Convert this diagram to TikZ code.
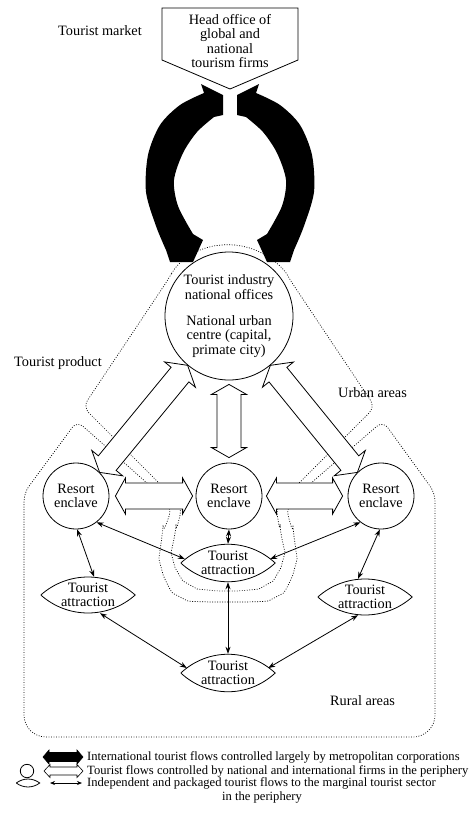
\documentclass[tikz,border=0pt]{standalone}
\usepackage{fontspec}
\setmainfont{Liberation Serif}
\usetikzlibrary{calc,arrows.meta}
% #1 style, #2 from, #3 to, #4 head length, #5 shaft half width, #6 head half width
\newcommand\hdarrow[6]{%
  \draw[#1] (#2) -- ($(#2)!#4!(#3)!#6!90:(#3)$) -- ($(#2)!#4!(#3)!#5!90:(#3)$)
    -- ($(#3)!#4!(#2)!#5!-90:(#2)$) -- ($(#3)!#4!(#2)!#6!-90:(#2)$) -- (#3)
    -- ($(#3)!#4!(#2)!#6!90:(#2)$) -- ($(#3)!#4!(#2)!#5!90:(#2)$)
    -- ($(#2)!#4!(#3)!#5!-90:(#3)$) -- ($(#2)!#4!(#3)!#6!-90:(#3)$) -- cycle;}
% lens around a node: name, control dx, control dy
\newcommand\lensdraw[3]{%
  \draw[lensline] (#1.west) .. controls +(#2,-#3) and +(-#2,-#3) .. (#1.east)
    .. controls +(-#2,#3) and +(#2,#3) .. (#1.west);}
\newcommand\blackarc{%
  \fill (201,84) -- (223,95) -- (223,115)
    -- plot[smooth] coordinates {(214,117) (197,132) (183,153) (174,180) (178,206) (193,234)}
    -- (203,240) -- (193,262) -- (170,262)
    -- plot[smooth] coordinates {(166,250) (156,226) (146,192) (148,155) (160,125) (180,105) (204,93)}
    -- cycle;}
\begin{document}
\begin{tikzpicture}[x=1pt,y=-1pt,
  font=\fontsize{14.3}{14.4}\selectfont,
  lw/.style={line width=0.8pt},
  dotline/.style={line width=0.7pt, dash pattern=on 0.9pt off 1.6pt},
  circ/.style={circle, draw, line width=0.8pt, fill=white, inner sep=0pt, align=center},
  attr/.style={inner sep=0pt, minimum width=94pt, minimum height=38pt, align=center},
  lensline/.style={line width=0.8pt},
  hollow/.style={draw, fill=white, line width=0.8pt},
  flow/.style={line width=0.8pt, {Stealth[length=7pt,width=5pt]}-{Stealth[length=7pt,width=5pt]}},
  lbl/.style={inner sep=0pt},
  legtext/.style={inner sep=0pt, font=\fontsize{12.6}{14}\selectfont}
]
\useasboundingbox (0,0) rectangle (476,814);

% ---------- dotted regions ----------
\draw[dotline, rounded corners=8pt] (167.5,280.5) arc[start angle=150, end angle=30, radius=71pt]
  -- (375,407) -- (300,482) -- (276,507)
  -- plot[smooth] coordinates {(280,532) (283,560) (266,585) (228,591) (190,585) (173,560) (176,532)}
  -- (182,507) -- (158,482) -- (83,407) -- cycle;
\draw[dotline, rounded corners=8pt] (24,600) -- (24,493) -- (77,421) -- (147,483) -- (172,508)
  -- plot[smooth] coordinates {(163,533) (161,567) (180,597) (228,602) (276,597) (295,567) (293,533)}
  -- (286,508) -- (311,483) -- (383,421) -- (435,493) [rounded corners=22pt] -- (435,737) -- (24,737) -- (24,600);

% ---------- head office ----------
\draw[lw] (162,8) -- (298,8) -- (298,60) -- (230,89) -- (162,60) -- cycle;
\node[lbl, align=center] (head) at (230,41) {Head office of\\global and\\national\\tourism firms};

% ---------- circles ----------
\node[circ, minimum size=128pt] (nat) at (229,316)
  {Tourist industry\\national offices\\[12pt]National urban\\centre (capital,\\primate city)};
\node[circ, minimum size=66pt] (resL) at (76,496) {Resort\\enclave};
\node[circ, minimum size=66pt] (resM) at (229,496) {Resort\\enclave};
\node[circ, minimum size=66pt] (resR) at (381,496) {Resort\\enclave};

% ---------- hollow arrows ----------
\coordinate (vT) at ($(nat.south)+(0,4)$);
\coordinate (vB) at ($(resM.north)+(0,-5)$);
\coordinate (hL1) at ($(resL.east)+(6,0)$);
\coordinate (hL2) at ($(resM.west)+(-3,0)$);
\coordinate (hR1) at ($(resM.east)+(4,0)$);
\coordinate (hR2) at ($(resR.west)+(-5,0)$);
\hdarrow{hollow}{resL.45}{nat.230}{12pt}{11.5pt}{20pt}
\hdarrow{hollow}{resR.135}{nat.310}{12pt}{11.5pt}{20pt}
\hdarrow{hollow}{vT}{vB}{10pt}{12pt}{17.5pt}
\hdarrow{hollow}{hL1}{hL2}{10pt}{13pt}{18pt}
\hdarrow{hollow}{hR1}{hR2}{10pt}{13pt}{18pt}

% ---------- black arcs ----------
\blackarc
\begin{scope}[shift={(460,0)}, xscale=-1]
\blackarc
\end{scope}

% ---------- attractions ----------
\node[attr] (a1) at (228,563) {Tourist\\attraction};
\node[attr] (a2) at (88,595) {Tourist\\attraction};
\node[attr] (a3) at (365,597) {Tourist\\attraction};
\node[attr] (a4) at (228,673) {Tourist\\attraction};
\lensdraw{a1}{27}{25}
\lensdraw{a2}{27}{24}
\lensdraw{a3}{27}{24}
\lensdraw{a4}{27}{25}

% ---------- thin flows ----------
\draw[flow] (resL.-52) -- ($(a1.west)+(4,-4)$);
\draw[flow] (resR.232) -- ($(a1.east)+(-5,-4)$);
\draw[flow] (resM.south) -- (a1.north);
\draw[flow] (resL.-88) -- ($(a2.north)+(6,1)$);
\draw[flow] (resR.-92) -- ($(a3.north)+(-7,1)$);
\draw[flow] (a1.south) -- (a4.north);
\draw[flow] ($(a2.south)+(12,-1)$) -- ($(a4.west)+(6,-5)$);
\draw[flow] ($(a3.south)+(-7,-1)$) -- ($(a4.east)+(-7,-5)$);

% ---------- labels ----------
\node[lbl, anchor=east] (lmarket) at (142,31) {Tourist market};
\node[lbl, anchor=east] (lproduct) at (102,363) {Tourist product};
\node[lbl, anchor=west] (lurban) at (338,393) {Urban areas};
\node[lbl, anchor=west] (lrural) at (330,701) {Rural areas};

% ---------- legend ----------
\coordinate (lgA1) at (43,757);
\coordinate (lgA2) at (83,757);
\hdarrow{fill=black, draw, line width=0.6pt}{lgA1}{lgA2}{6pt}{4.5pt}{7pt}
\node[legtext, anchor=west] (lgT1) at (87,757) {International tourist flows controlled largely by metropolitan corporations};
\node[circle, draw, lw, minimum size=13.4pt, inner sep=0pt] (lgC) at (27,771) {};
\coordinate (lgB1) at (44,771);
\coordinate (lgB2) at (83,771);
\hdarrow{hollow, line width=0.6pt}{lgB1}{lgB2}{6pt}{4pt}{6.5pt}
\node[legtext, anchor=west] (lgT2) at (87,771) {Tourist flows controlled by national and international firms in the periphery};
\node[inner sep=0pt, minimum width=23pt, minimum height=8pt] (lgL) at (28,783) {};
\lensdraw{lgL}{7}{5.3}
\coordinate (lgD1) at (50,783);
\coordinate (lgD2) at (82,783);
\draw[line width=0.7pt, {Stealth[length=5pt,width=4pt]}-{Stealth[length=5pt,width=4pt]}] (lgD1) -- (lgD2);
\node[legtext, anchor=west] (lgT3) at (87,783) {Independent and packaged tourist flows to the marginal tourist sector};
\node[legtext] (lgT3b) at (262,797) {in the periphery};
\end{tikzpicture}
\end{document}
